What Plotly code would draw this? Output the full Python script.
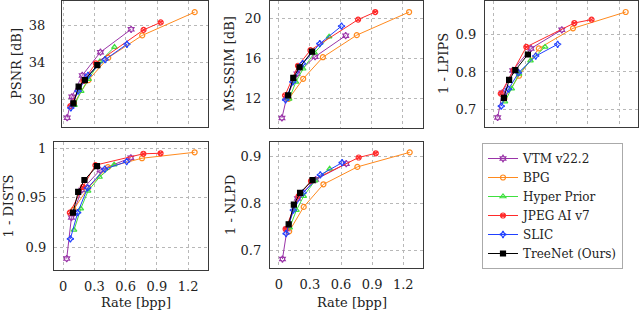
import plotly.graph_objects as go
from plotly.subplots import make_subplots

# bitrates [bpp] per codec
rate_vtm = [0.035, 0.08, 0.18, 0.355, 0.65]
rate_bpg = [0.10, 0.24, 0.43, 0.757, 1.262]
rate_hyper = [0.105, 0.17, 0.24, 0.35, 0.49]
rate_jpegai = [0.065, 0.19, 0.31, 0.77, 0.935]
rate_slic = [0.07, 0.14, 0.235, 0.40, 0.61]
rate_treenet = [0.095, 0.145, 0.205, 0.325]

# PSNR [dB]
psnr_vtm = [28.05, 30.3, 32.6, 35.1, 37.55]
psnr_bpg = [29.6, 32.1, 34.5, 36.9, 39.4]
psnr_hyper = [29.4, 30.9, 32.2, 34.1, 35.65]
psnr_jpegai = [29.3, 32.0, 33.9, 37.5, 38.3]
psnr_slic = [29.1, 30.9, 32.6, 34.3, 35.95]
psnr_treenet = [29.6, 31.4, 32.1, 33.7]

# MS-SSIM [dB]
msssim_vtm = [10.1, 12.1, 14.5, 16.2, 18.3]
msssim_bpg = [12.0, 14.0, 16.15, 18.35, 20.65]
msssim_hyper = [12.0, 13.7, 15.0, 16.6, 18.2]
msssim_jpegai = [12.35, 15.3, 16.85, 19.9, 20.65]
msssim_slic = [11.9, 13.7, 15.5, 17.5, 19.25]
msssim_treenet = [12.35, 14.1, 15.15, 16.7]

# 1 - LPIPS
lpips_vtm = [0.68, 0.745, 0.804, 0.862, 0.911]
lpips_bpg = [0.73, 0.79, 0.862, 0.915, 0.958]
lpips_hyper = [0.722, 0.756, 0.795, 0.83, 0.866]
lpips_jpegai = [0.743, 0.805, 0.866, 0.929, 0.938]
lpips_slic = [0.71, 0.755, 0.798, 0.842, 0.873]
lpips_treenet = [0.732, 0.779, 0.805, 0.846]

# 1 - DISTS
dists_vtm = [0.8885, 0.930, 0.958, 0.978, 0.9905]
dists_bpg = [0.938, 0.960, 0.981, 0.990, 0.996]
dists_hyper = [0.9175, 0.939, 0.957, 0.971, 0.9835]
dists_jpegai = [0.935, 0.961, 0.983, 0.9945, 0.995]
dists_slic = [0.9085, 0.935, 0.96, 0.979, 0.9865]
dists_treenet = [0.935, 0.956, 0.968, 0.982]

# 1 - NLPD
nlpd_vtm = [0.681, 0.745, 0.81, 0.85, 0.884]
nlpd_bpg = [0.74, 0.792, 0.84, 0.877, 0.908]
nlpd_hyper = [0.748, 0.785, 0.815, 0.848, 0.873]
nlpd_jpegai = [0.745, 0.815, 0.847, 0.897, 0.906]
nlpd_slic = [0.735, 0.785, 0.822, 0.86, 0.886]
nlpd_treenet = [0.755, 0.797, 0.822, 0.849]

x_ticks = [0, 0.3, 0.6, 0.9, 1.2]
x_ticklabels = ["0", "0.3", "0.6", "0.9", "1.2"]

codecs = [
    ("VTM v22.2", rate_vtm, "#9a34a8", "hexagram-open"),
    ("BPG", rate_bpg, "#ff8a1e", "circle-open"),
    ("Hyper Prior", rate_hyper, "#3fe03f", "triangle-up-open"),
    ("JPEG AI v7", rate_jpegai, "#ff2a2a", "circle-x-open"),
    ("SLIC", rate_slic, "#2040ff", "star-diamond-open"),
    ("TreeNet (Ours)", rate_treenet, "#000000", "square"),
]

panels = [
    ("PSNR [dB]", [psnr_vtm, psnr_bpg, psnr_hyper, psnr_jpegai, psnr_slic, psnr_treenet],
     [30, 34, 38], ["30", "34", "38"], [-0.015, 1.39], [27.05, 40.6]),
    ("MS-SSIM [dB]", [msssim_vtm, msssim_bpg, msssim_hyper, msssim_jpegai, msssim_slic, msssim_treenet],
     [12, 16, 20], ["12", "16", "20"], [-0.08, 1.396], [9.1, 21.75]),
    ("1 - LPIPS", [lpips_vtm, lpips_bpg, lpips_hyper, lpips_jpegai, lpips_slic, lpips_treenet],
     [0.7, 0.8, 0.9], ["0.7", "0.8", "0.9"], [-0.086, 1.38], [0.655, 0.987]),
    ("1 - DISTS", [dists_vtm, dists_bpg, dists_hyper, dists_jpegai, dists_slic, dists_treenet],
     [0.9, 0.95, 1.0], ["0.9", "0.95", "1"], [-0.087, 1.39], [0.877, 1.0064]),
    ("1 - NLPD", [nlpd_vtm, nlpd_bpg, nlpd_hyper, nlpd_jpegai, nlpd_slic, nlpd_treenet],
     [0.7, 0.8, 0.9], ["0.7", "0.8", "0.9"], [-0.085, 1.39], [0.662, 0.93]),
]

W, H = 640, 332
# frame boxes in pixels: left, right, top, bottom
boxes = [(62, 208, 1, 127), (270, 423, 1, 128), (485, 638, 1, 127),
         (54, 208, 142, 270), (270, 423, 142, 268)]
ylabel_x = [17, 229, 444, 7.5, 230]
tick_gap = [13, 5, 5, 4, 5]

FONT = "DejaVu Serif"

fig = make_subplots(rows=2, cols=3, specs=[[{}, {}, {}], [{}, {}, None]])

for p, (ytitle, series, yt, ytl, xr, yr) in enumerate(panels):
    row, col = p // 3 + 1, p % 3 + 1
    for (name, rates, color, symbol), vals in zip(codecs, series):
        fig.add_trace(
            go.Scatter(
                x=rates, y=vals, name=name, mode="lines+markers",
                line=dict(color=color, width=1),
                marker=dict(symbol=symbol, size=5, color=color, line=dict(color=color, width=1.2)),
                showlegend=(p == 0),
            ),
            row=row, col=col,
        )

    l, r, t, b = boxes[p]
    ax = "" if p == 0 else str(p + 1)
    fig.layout["xaxis" + ax].update(
        domain=[l / W, r / W], range=xr, tickvals=x_ticks, ticktext=x_ticklabels,
        showticklabels=(row == 2), showgrid=True, gridcolor="#b8b8b8", griddash="dot",
        gridwidth=1, zeroline=False, showline=True, mirror=True, linecolor="#3a3a3a",
        linewidth=1.3, ticks="", ticklabelstandoff=4,
        tickfont=dict(family=FONT, size=13, color="#222"),
    )
    fig.layout["yaxis" + ax].update(
        domain=[1 - b / H, 1 - t / H], range=yr, tickvals=yt, ticktext=ytl,
        showgrid=True, gridcolor="#b8b8b8", griddash="dot", gridwidth=1,
        zeroline=False, showline=True, mirror=True, linecolor="#3a3a3a", linewidth=1.3,
        ticks="", ticklabelstandoff=tick_gap[p],
        tickfont=dict(family=FONT, size=13, color="#222"),
    )
    fig.add_annotation(
        text=ytitle, x=ylabel_x[p] / W, y=1 - (t + b) / 2 / H, xref="paper", yref="paper",
        textangle=-90, showarrow=False, xanchor="center", yanchor="middle",
        font=dict(family=FONT, size=13, color="#222"),
    )
    if row == 2:
        fig.add_annotation(
            text="Rate [bpp]", x=(l + r + 10) / 2 / W, y=1 - 302 / H, xref="paper", yref="paper",
            showarrow=False, xanchor="center", yanchor="middle",
            font=dict(family=FONT, size=13, color="#222"),
        )

fig.update_layout(
    width=W, height=H,
    margin=dict(l=0, r=0, t=0, b=0),
    paper_bgcolor="white", plot_bgcolor="white",
    legend=dict(
        x=482 / W, y=1 - 143 / H, xanchor="left", yanchor="top",
        bordercolor="#aaaaaa", borderwidth=1, bgcolor="white",
        font=dict(family=FONT, size=12, color="#222"),
        itemwidth=30, tracegroupgap=0,
    ),
)

# drop the default page margin so the figure sits at the window origin
fig.write_html("out.html", config={"displayModeBar": False},
               post_script="document.body.style.margin='0';")
